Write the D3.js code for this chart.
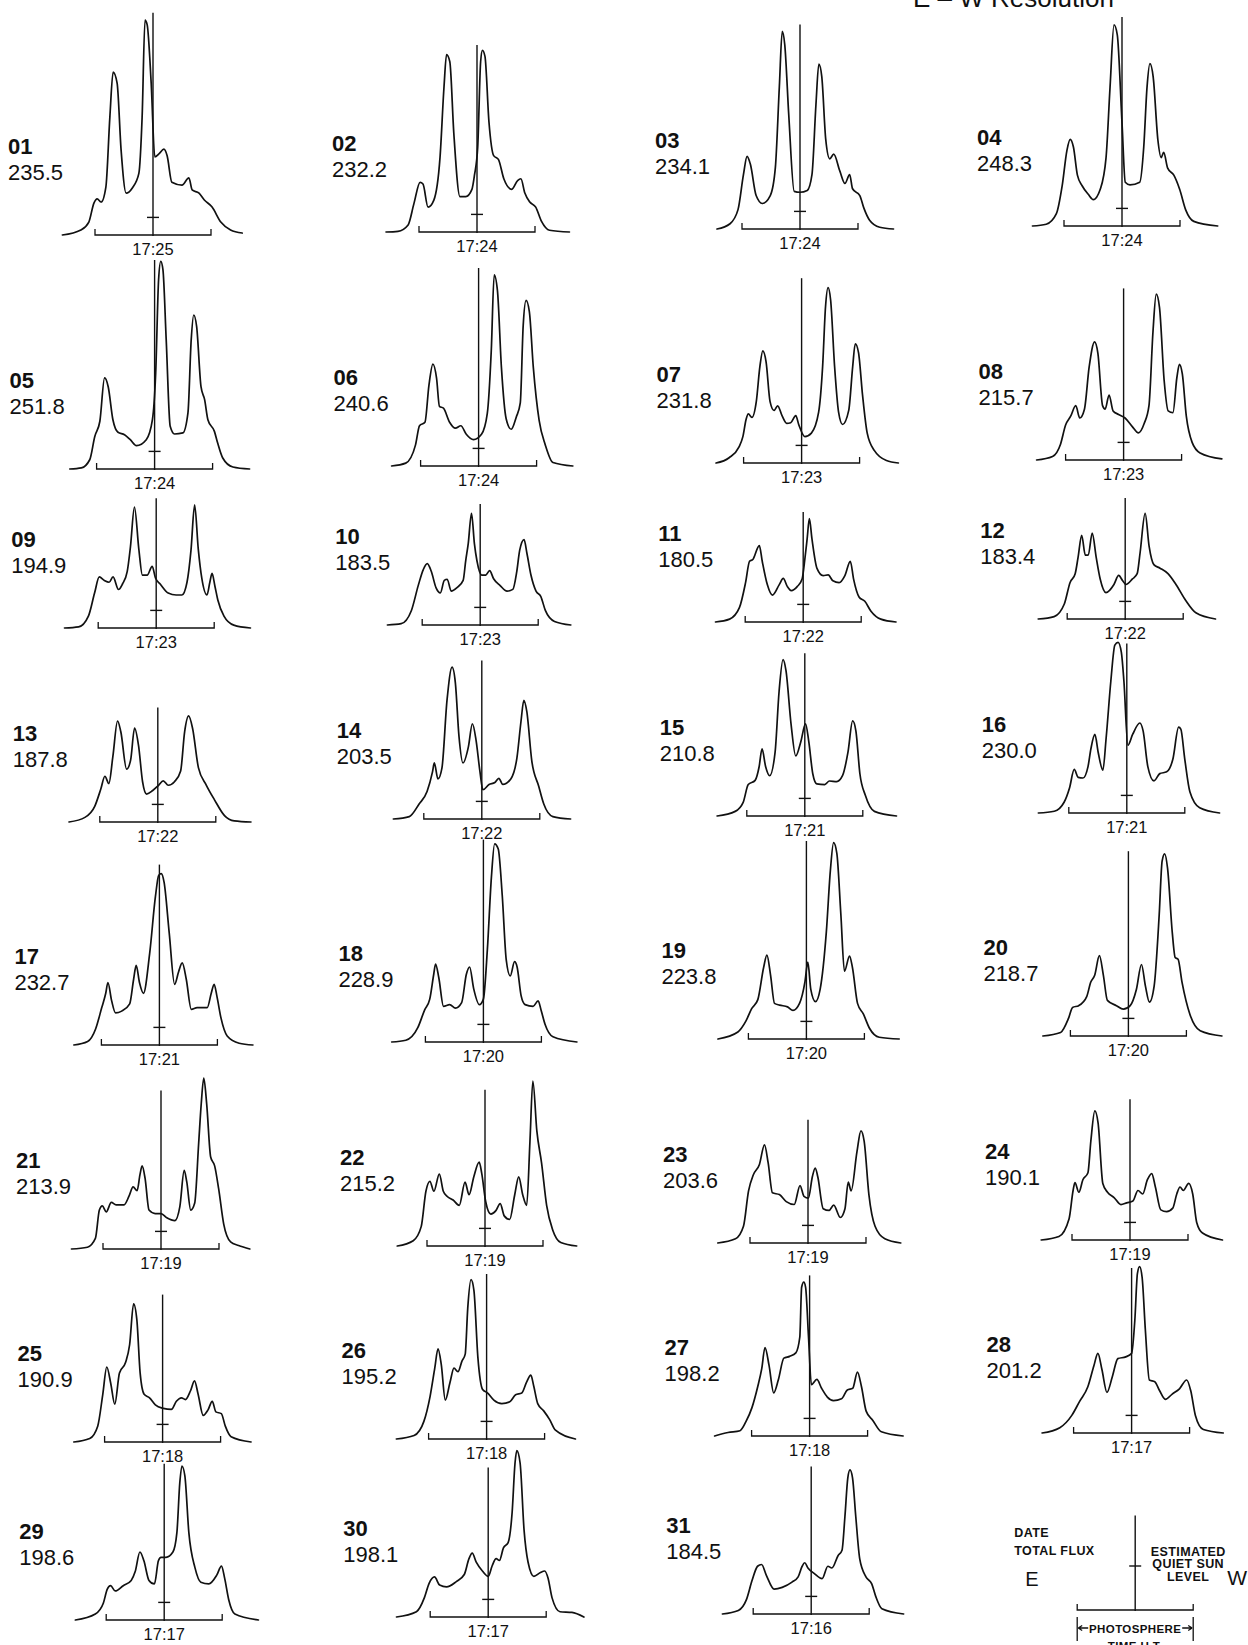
<!DOCTYPE html>
<html>
<head>
<meta charset="utf-8">
<script src="https://cdn.jsdelivr.net/npm/d3@7/dist/d3.min.js"></script>
<style>
  html, body { margin: 0; padding: 0; background: #fff; }
  svg { display: block; }
  text { font-family: "Liberation Sans", Arial, sans-serif; fill: #111; }
  .scan { fill: none; stroke: #111; stroke-width: 1.7; stroke-linejoin: round; stroke-linecap: round; }
  .axis-line { stroke: #111; stroke-width: 1.4; }
  .bracket { fill: none; stroke: #111; stroke-width: 1.3; }
  .date { font-size: 22px; font-weight: bold; }
  .flux { font-size: 22px; }
  .time { font-size: 16.5px; text-anchor: middle; }
  .key { font-size: 12.5px; font-weight: bold; letter-spacing: 0.4px; }
</style>
</head>
<body>
<div class="chart"></div>
<script>
// day of month, total flux, scan time (U.T.)
const dates = ['01','02','03','04','05','06','07','08','09','10','11','12','13','14','15','16',
    '17','18','19','20','21','22','23','24','25','26','27','28','29','30','31']
const fluxes = ['235.5','232.2','234.1','248.3','251.8','240.6','231.8','215.7','194.9','183.5','180.5',
    '183.4','187.8','203.5','210.8','230.0','232.7','228.9','223.8','218.7','213.9','215.2','203.6',
    '190.1','190.9','195.2','198.2','201.2','198.6','198.1','184.5']
const times = ['17:25','17:24','17:24','17:24','17:24','17:24','17:23','17:23','17:23','17:23','17:22',
    '17:22','17:22','17:22','17:21','17:21','17:21','17:20','17:20','17:20','17:19','17:19','17:19',
    '17:19','17:18','17:18','17:18','17:17','17:17','17:17','17:16']

// height reached by the central meridian marker, same units as the scans
const meridianTop = [101, 85, 93, 95, 95, 90, 84, 78, 59, 55, 50, 55, 52, 72, 74, 77,
    82, 92, 90, 84, 72, 71, 56, 64, 67, 75, 73, 75, 71, 68, 67]
const quietSun = 8

// E-W scans: [offset from disk centre (arcmin), relative brightness]
const scan01 = [[-25,0],[-19.9,2.3],[-17.7,5.9],[-16.3,14.5],[-15.4,16.4],[-14.3,15],[-13,21.8],[-11.9,53.6],[-11,74],[-9.9,69],[-8.8,38.6],[-7.4,19],[-5.7,21.4],[-3.9,28],[-3,53.6],[-2.2,97.7],[-1.6,95.5],[-0.5,69],[0.5,35.5],[1.7,37],[3,39],[3.9,36],[5.2,24],[8,22.7],[9.9,26],[10.8,20.5],[12.7,19],[14.1,16],[16.3,12.7],[18.7,5.9],[21.4,2.3],[24.6,0.9]]
const scan02 = [[-25.1,0],[-21.8,0.3],[-19,3.2],[-17.4,12.9],[-15.7,22.6],[-14.9,21.8],[-13.5,11.3],[-11.9,14.5],[-10.2,33.9],[-9.1,66],[-8.4,80.6],[-7.5,77.4],[-6.4,45],[-4.7,16.1],[-3.1,16.1],[-1.4,19.4],[-0.7,25.8],[0.2,38.7],[1,77.4],[1.5,82.6],[2.2,79.8],[3.3,50],[4.6,34.7],[5.9,33],[7.4,24.2],[9.6,19.4],[11.2,23.4],[12.1,24.2],[13.2,17.7],[14.5,13.7],[16.2,11.3],[17.8,4.8],[20,0.8],[25.5,0]]
const scan03 = [[-22.9,0],[-19.3,2.4],[-17.1,8.8],[-15.6,24.7],[-14.6,33],[-13.7,29.5],[-12.1,15.2],[-10.4,11.6],[-8.2,15.2],[-6.8,27.9],[-5.7,64.6],[-4.9,89.8],[-4.2,83.7],[-3.1,51.8],[-1.6,17.1],[0,16.7],[2,17.5],[3.3,24.7],[4.4,56.6],[5.2,75],[6,69.4],[7.1,40.7],[8.2,31.9],[9.3,34],[11,26.3],[12.4,20.7],[13.7,24.7],[14.5,18.3],[16.5,15.2],[17.6,9.6],[19.2,4],[22,0.8],[25.8,0]]
const scan04 = [[-24.7,0],[-20.9,0.8],[-18.1,5.6],[-16.5,18.3],[-15.2,34.3],[-14.3,39.4],[-13.4,35.9],[-12.3,23.1],[-11,18.3],[-9.3,14.4],[-7.9,12],[-6,16.7],[-4.4,31.1],[-3.3,63],[-2.2,91.4],[-1.3,86.9],[0,47],[0.9,19.9],[2.2,18.7],[4.9,19.9],[6,35.9],[6.9,63],[7.7,73.8],[8.6,67.8],[9.9,39.1],[10.8,31.1],[11.5,33.5],[12.6,26.3],[14.3,23.1],[15.9,16.7],[17.6,7.2],[19.8,2.1],[26.4,0]]
const scan05 = [[-23.4,0],[-20.2,0.5],[-17.9,4.2],[-16.5,14.8],[-15.1,21.7],[-13.8,41.4],[-12.8,37.4],[-11.5,22.4],[-10.1,16.7],[-8.3,15.6],[-6.7,13.3],[-5,10.6],[-2.3,13.3],[-0.6,22.4],[0.3,43.6],[1.1,86],[1.7,94.4],[2.3,90.6],[3.2,58.8],[4.3,19.4],[5.5,15.9],[7.8,16.4],[9.2,25.5],[10.1,58.8],[10.8,70],[11.6,64.7],[12.8,37.4],[13.8,31.5],[14.7,22.4],[16.5,17.1],[17.4,11.8],[18.8,5],[21.6,0.9],[26.2,0]]
const scan06 = [[-24,0],[-20.1,1.3],[-17.4,9.6],[-16.3,18.3],[-14.8,19.9],[-13.7,36.7],[-12.6,46.3],[-11.6,39.9],[-10.8,27.1],[-9.7,26.3],[-8,19.9],[-6.4,17.2],[-4.9,18.3],[-3.4,14.4],[-1.4,12],[0.8,14.4],[2.4,23.9],[3.5,52.6],[4.3,86.9],[5.2,79.7],[6.3,44.7],[7.6,21.5],[9,16.7],[10.4,22.3],[11.5,28.7],[12.3,63.8],[13.1,75.3],[14,70.2],[15.1,44.7],[16.7,20.7],[18.4,9.6],[20.5,1.6],[26,0]]
const scan07 = [[-23.6,0],[-20,2.4],[-17.3,7.2],[-16.2,12],[-15.3,19.9],[-14.7,22.3],[-13.7,20.7],[-12.5,27.9],[-11.5,43.9],[-10.7,51],[-9.8,46],[-8.7,27.9],[-7.6,23.9],[-6.6,26],[-5.4,21.5],[-4.1,18],[-3,18.3],[-1.6,21.5],[-0.8,17.5],[0.9,12],[2.7,13.6],[4.7,23.1],[5.8,43.9],[6.6,71],[7.3,79.7],[8,74.2],[9.1,43.9],[10.2,23.1],[11.3,17.5],[13,23.9],[14.1,43.9],[14.8,54.2],[15.7,50.2],[16.8,31.1],[18.1,13.6],[20.1,5.6],[23.4,1.1],[26.7,0]]
const scan08 = [[-24,0],[-19.6,1.6],[-17.4,7.2],[-16,15.9],[-14.6,19.9],[-13.2,24.7],[-12.1,19.1],[-10.8,23.1],[-9.5,42.3],[-8,53.7],[-7.1,48.6],[-5.8,24.7],[-5.1,23.1],[-4,29.5],[-2.9,22.3],[-1.4,20.7],[0.4,19.1],[2.4,15.2],[4.1,12.3],[5.7,16.7],[7,24.7],[8.1,58.2],[9,75.4],[9.9,69.4],[11.2,35.9],[12.3,22.3],[13.6,21.5],[14.7,37.5],[15.4,43.5],[16.2,39.1],[17.3,19.9],[18.9,8],[21.1,3.2],[27.1,0.5]]
const scan09 = [[-25.3,0],[-21.4,0.5],[-18.7,5.4],[-17,15.9],[-15.7,23.2],[-14.3,21.6],[-13,20.8],[-11.9,23.2],[-10.4,17.5],[-9.3,20],[-8,25.6],[-7.1,37],[-6,55],[-4.8,36],[-3.8,24],[-2.5,24],[-1.1,28],[-0.2,22.7],[1.1,20],[3.3,15.9],[5.5,15],[7.1,15],[8.5,20.8],[9.6,35.4],[10.6,56],[11.6,36],[12.6,22.4],[14,15],[14.8,20.8],[15.4,24.8],[16.2,19],[17,12.7],[18.7,5.4],[21.4,1.3],[26,0]]
const scan10 = [[-25.6,0],[-21.8,0.6],[-19,6.5],[-17.1,17.9],[-15.7,25.2],[-14.6,27.9],[-13.5,24.4],[-12.2,17],[-11,14.6],[-9.9,20.3],[-9.1,20.8],[-8,15.4],[-6.4,17],[-4.7,20.3],[-4,29.2],[-3.3,37],[-2.4,50.8],[-1.6,37],[-0.9,29.2],[0.4,22.7],[1.5,22.7],[2.6,24.7],[3.7,21],[5.5,17.9],[7.4,15.4],[9,16.2],[10.1,24.4],[10.9,34],[12.1,38.8],[12.9,32.5],[14,22.7],[15.4,15.4],[16.7,13],[18,6.5],[20.5,1.6],[25,0]]
const scan11 = [[-24.2,0],[-20.3,1.3],[-17.6,6.5],[-15.9,17.9],[-14.8,27.6],[-13.9,28.4],[-12.1,34.7],[-11.3,27.6],[-9.9,17],[-8.5,12.2],[-6.6,17],[-5.5,19.8],[-4.4,16.2],[-3.3,14.3],[-1.6,16.2],[-0.3,19.5],[0.5,29.2],[1.1,38],[1.7,47],[2.4,38],[3.8,24.4],[5.5,21.1],[6.9,21.4],[8.2,18.7],[9.9,17.9],[11.5,21.1],[13,27.6],[13.9,19.5],[15.4,11.4],[17,9.4],[18.7,4.9],[21.4,1.3],[25.6,0]]
const scan12 = [[-24,0],[-19.6,1.1],[-16.8,6.8],[-15.2,16.6],[-13.8,20.6],[-13,28],[-12,38],[-11,29],[-10.2,29],[-9.1,39],[-8,28],[-6.9,18.2],[-5.3,12],[-3.1,15.7],[-1.8,19.8],[-0.7,17.4],[0.2,15.7],[2,18.2],[3.3,20.6],[4.1,30],[5.5,48],[6.6,33],[7.9,24.7],[9.6,23.1],[11.8,20.6],[14,15.7],[16.7,8.4],[19.5,2.8],[24.9,0]]
const scan13 = [[-24.5,0],[-20.1,2.1],[-17.4,7.1],[-15.7,15.1],[-14.6,20.8],[-13.5,17.5],[-12.4,29.7],[-11.1,45.9],[-10.2,41],[-8.6,24],[-7.5,28.1],[-6.4,42.7],[-5.3,34.6],[-4.2,18.3],[-3.1,12.7],[-1.4,14.3],[0.2,16.7],[1.5,18.7],[2.9,16.7],[4.6,18.3],[6.3,23.2],[7.4,41],[8.5,48.2],[9.6,42.5],[11.2,24.7],[13.4,16.7],[15.6,10.2],[18.4,2.9],[21.1,0.5],[25.7,0]]
const scan14 = [[-24.4,0],[-20,1.1],[-17.3,6.8],[-15.1,12.5],[-13.6,21.4],[-13.1,25.5],[-12.1,18.2],[-11,23.1],[-9.6,53.9],[-8.2,69],[-7.3,62],[-6.3,37.7],[-5.2,25.5],[-3.7,32.8],[-2.6,43.3],[-1.6,36],[-0.5,21.4],[0.3,13.3],[2,15.7],[3.6,16.6],[4.7,18.5],[5.8,15.7],[8,18.2],[9.7,27.9],[10.8,44.2],[11.6,53.9],[12.4,49],[13.8,26.3],[15.7,14.9],[17.1,6.8],[19.6,1.1],[24.5,0]]
const scan15 = [[-24.2,0],[-19.2,2.1],[-17,6.2],[-15.6,14.3],[-13.7,16.2],[-12.6,22.4],[-11.8,30.5],[-10.8,22.4],[-9.7,18.3],[-8.2,28.9],[-7.1,56.5],[-6,71.1],[-5.2,66.2],[-3.8,41.9],[-2.5,27.3],[-1.1,33.8],[0.2,41.9],[1.1,33.8],[2.2,19.2],[3.3,14.6],[5.5,14.3],[6.8,15.9],[8.8,15.6],[10.4,18.3],[11.9,28.9],[13.2,43.2],[14.1,38.6],[15.2,19.2],[16.7,9.4],[19.2,2.1],[25.3,0]]
const scan16 = [[-24.4,0],[-20,0.8],[-17.3,4.9],[-15.8,11.4],[-14.5,19.8],[-13.4,16.2],[-12.1,15.9],[-10.7,21.1],[-9.9,29.2],[-8.8,35.7],[-7.9,27.6],[-6.6,19.5],[-5.7,34.1],[-4.4,60],[-3.3,76.3],[-2.4,77.6],[-1.5,73],[-0.8,60],[0.3,30.8],[1.6,35.7],[3.6,40.9],[4.5,37.3],[5.8,21.1],[7.5,14.6],[9.1,17.9],[11,18.7],[12.7,24.4],[14.3,39],[14.9,38.1],[16,24.4],[17.4,9.7],[20.1,2.4],[25.6,0]]
const scan17 = [[-23.6,0],[-19.8,1.6],[-17.6,7.3],[-15.9,17],[-14.8,23.5],[-14.2,28.4],[-13.2,20.3],[-12.1,14.6],[-10.4,15.4],[-8.2,18.7],[-7.1,30],[-6.4,36.2],[-5.5,28.4],[-4.4,23.5],[-2.7,41.4],[-1.1,67.4],[-0.2,77.1],[0.5,77.9],[1.3,73.9],[2.7,51.1],[4.2,27.6],[5.3,33.3],[6.3,37.3],[7.4,30],[8.8,16.2],[10.4,17],[13.2,17],[14.3,23.5],[15.1,27.6],[15.9,21.9],[17,12.2],[18.7,4.1],[22,0.8],[25.8,0]]
const scan18 = [[-25.3,0],[-21.4,0.8],[-18.1,6.5],[-16.2,14.6],[-14.8,19.5],[-13.7,30.8],[-13.2,35.4],[-12.3,29.2],[-11,16.2],[-9.3,17],[-7.7,15.4],[-6,17.9],[-4.7,30.8],[-3.8,34.1],[-2.7,24.4],[-1.1,17],[0,19.5],[1.1,42.2],[2.2,74.7],[3.1,90.1],[4.1,87.7],[5.2,66.6],[6.3,37.3],[7.4,30],[8.6,36.5],[9.3,34.1],[10.4,21.1],[11.5,17],[13.7,16.2],[15.1,18.7],[15.9,14.6],[17,8.1],[19.2,2.4],[25.8,0]]
const scan19 = [[-24.4,0],[-18.9,3.2],[-16.7,8.1],[-15.1,13.8],[-13.4,17.9],[-11.8,32.5],[-10.9,38.1],[-9.9,29.2],[-8.8,16.2],[-7.4,15.4],[-5.2,14.6],[-3.7,13],[-1.9,16.2],[-0.4,26],[0.4,34.9],[1.2,22.7],[2.5,17],[3.8,22.7],[5.5,48.7],[6.6,76.3],[7.5,89.3],[8.4,84.4],[9.5,56.8],[10.5,30.8],[11.9,37.7],[12.7,32.5],[14.1,16.2],[15.7,11.4],[17.4,4.9],[20.1,0.8],[25.6,0]]
const scan20 = [[-23.6,0],[-18.7,1.6],[-16.5,8.1],[-15.4,13],[-13.7,13.8],[-11.5,17.9],[-10.4,24.4],[-9.3,27.6],[-8,36.5],[-6.9,27.6],[-5.8,16.2],[-3.3,13.8],[-1.4,12.2],[0.5,13.8],[2.2,21.1],[3.6,32.5],[4.7,22.7],[5.8,15.4],[7.1,22.7],[8.5,55.2],[9.3,79.5],[10,82.8],[10.8,76.3],[12.1,47.1],[12.9,35.7],[13.7,34.9],[14.8,24.4],[17,9.7],[19.8,2.4],[25.8,0]]
const scan21 = [[-24.7,0],[-20.3,0.8],[-18.1,4.8],[-17,17.7],[-16.2,19.6],[-15.1,16.9],[-13.7,21.2],[-12.4,20.1],[-10.2,20.1],[-8.8,24.1],[-7.7,28.2],[-6.6,26.5],[-5.8,33.8],[-5.2,37.8],[-4.4,32.2],[-3.3,17.7],[-1.6,16.1],[0,16.1],[1.6,14.2],[3.8,12.9],[5.2,19.3],[6.4,35.7],[7.1,30.6],[8.2,17.7],[9.3,20.9],[10.4,48.3],[11.1,66],[11.8,77.7],[12.6,66],[13.7,41.8],[14.8,37.8],[15.9,27.4],[17.3,11.3],[19.2,3.2],[21.4,1.6],[24.5,0]]
const scan22 = [[-24.2,0],[-19.8,2.4],[-17.6,8.8],[-16.3,24.9],[-15.2,29.4],[-14.1,24.9],[-12.6,32.7],[-11.5,24.9],[-10.4,22.5],[-8.8,20.9],[-7.1,18.5],[-5.5,29],[-4.4,23.3],[-3.1,31.4],[-1.6,38.1],[-0.9,33],[0.2,20.1],[1.6,14.5],[3,16.1],[4.2,19.3],[5.3,13.7],[6.8,12.1],[8.2,23.3],[9.3,31.4],[10.4,23.3],[11.5,18.5],[12.4,47.5],[13.2,75],[14.3,52.3],[15.6,37.8],[17,18.5],[18.7,7.2],[20.9,1.6],[25.3,0]]
const scan23 = [[-24.9,0],[-20,1.9],[-17.8,7.6],[-16.4,23.7],[-15.1,30.9],[-13.4,35.7],[-12,44.6],[-11,36.5],[-9.8,22.8],[-7.9,22],[-6,18.8],[-3.8,17.5],[-2.2,26.1],[-1.1,21.2],[0.1,20.4],[1.2,30.1],[2,34.1],[2.7,30.1],[4.2,15.6],[5.8,14.8],[7.1,17.2],[8.9,11.6],[10.2,15.6],[11.1,27.7],[11.9,23.7],[13.5,41.4],[14.6,51],[15.5,46.2],[16.8,22],[18.5,7.6],[21.2,1.9],[25.6,0]]
const scan24 = [[-24.5,0],[-19.6,1.6],[-16.8,9.7],[-15.7,22.5],[-15.2,26.1],[-14.1,21.7],[-13,27.4],[-11.6,30.6],[-10.8,45],[-9.7,58.7],[-8.8,53.1],[-7.5,25.7],[-6.2,21.7],[-4.4,19.3],[-2.5,16.1],[-0.9,16.9],[0.8,17.7],[2.2,22.5],[3.5,20.9],[4.8,27.4],[6,30.2],[7,24.1],[8.5,13.7],[10.1,12.9],[11.8,14.5],[12.9,20.9],[13.8,24.1],[14.7,22.5],[16.2,25.7],[17.3,20.9],[18.4,8],[20,3.2],[25.5,0]]
const scan25 = [[-24.5,0],[-20.1,1.6],[-17.9,7.2],[-16.5,21.7],[-15.4,34.1],[-14.3,26.6],[-13.2,17.2],[-11.9,31.4],[-10.2,36.2],[-9.1,44.2],[-8,62.8],[-7.1,55.5],[-6.2,31.4],[-5.1,21.7],[-3.6,20.1],[-2,16.9],[0.2,15.3],[2.4,14.8],[3.8,18.5],[5.2,20.1],[6.3,19.3],[7.7,23.3],[8.8,27.8],[9.8,21.7],[11.2,12.1],[12.5,14.5],[13.7,18.5],[14.7,13.7],[16.2,12.9],[17.3,7.2],[18.9,2.4],[24.4,0]]
const scan26 = [[-24.9,0],[-20,1.6],[-17.3,8],[-15.6,19.3],[-14.3,32.2],[-13.4,41],[-12.5,33.8],[-11.4,17.7],[-10.1,25.7],[-9,32.2],[-7.9,30.6],[-6.8,35.4],[-5.9,38.6],[-5.2,59.5],[-4.3,72.4],[-3.5,67.6],[-2.4,37],[-1.1,22.5],[0.3,20.9],[2,17.7],[4.2,16.1],[6.4,16.9],[8,20.1],[9.7,20.9],[11,25.7],[12.2,29],[13,24.1],[14.1,16.1],[15.7,12.9],[17.4,8.8],[19,4],[24.5,0]]
const scan27 = [[-26.2,0],[-22.5,1.6],[-19.2,2.4],[-17.6,6.4],[-15.9,12.9],[-14.3,22.5],[-13.2,30.6],[-12.3,40.2],[-11.2,32.2],[-9.9,19.6],[-8.6,25.7],[-7.1,35.4],[-5.5,36.2],[-3.8,37.8],[-2.7,45],[-2.2,67.6],[-1.6,69.9],[-1.1,67.6],[-0.3,45],[0.5,23.3],[2,25.7],[3.3,21.7],[4.9,17.7],[6.6,16.1],[8.8,16.9],[10.4,20.9],[11.9,21.7],[13.2,29],[14.3,22.5],[15.6,11.3],[17.4,7.2],[19.8,1.9],[25.8,0]]
const scan28 = [[-24.7,0],[-19.8,2.4],[-16.5,8],[-14.3,14.5],[-12.1,20.9],[-10.4,30.6],[-9.3,36.2],[-8.2,29],[-6.8,18.5],[-5.3,25.7],[-3.8,33.8],[-1.6,34.6],[0,36.2],[0.9,51.5],[1.6,72.4],[2.2,75.6],[2.9,70.8],[3.8,46.7],[4.9,24.1],[6.4,23.3],[7.7,19.3],[9.3,15.3],[11.2,17.7],[13.2,20.1],[15.2,24.1],[16.3,19.3],[17.6,8],[19.8,1.6],[25.3,0]]
const scan29 = [[-24.5,0],[-19,2.7],[-16.8,7.6],[-15.7,14],[-14.8,15.6],[-13.5,13.2],[-11.3,15.6],[-9.1,18],[-8,22],[-6.7,30.9],[-5.6,26.9],[-4.2,18],[-2.7,16.4],[-1.6,26.9],[-0.9,28.5],[0.5,28.5],[2.4,30.9],[3.5,39.7],[4.3,62.3],[4.9,70],[5.7,65.5],[6.8,39.7],[8.5,23.7],[10.1,17.2],[12.3,16.4],[14.5,20.4],[15.8,24.5],[16.7,18.8],[17.8,9.2],[19.5,2.7],[26,0]]
const scan30 = [[-25.3,0],[-19.8,2.4],[-17.6,8.8],[-16.3,15.3],[-14.8,18.2],[-13.4,14.5],[-11.5,13.7],[-8.8,16.1],[-6.6,19.3],[-5.3,26.5],[-4.4,29],[-3.3,24.9],[-1.6,20.9],[0,18.5],[1.1,23.3],[2.2,26.5],[3.1,25.7],[4.2,31.4],[5.5,33.8],[6.6,47.5],[7.4,70],[7.9,75.6],[8.8,70],[9.9,39.4],[11,24.9],[12.6,18.5],[14.3,20.1],[15.6,20.9],[16.5,17.7],[17.6,8.8],[19.8,2.4],[23.1,2.1],[26.4,0]]
const scan31 = [[-24.5,0],[-20.1,1.6],[-17.9,6.4],[-16.3,15.3],[-14.8,21.7],[-13.7,22.5],[-12.4,17.7],[-10.2,11.3],[-8,12.1],[-5.3,14.5],[-3.6,16.9],[-2.5,21.7],[-1.8,23.3],[-0.9,20.9],[0.8,18.5],[3,16.1],[4.6,21.7],[5.7,20.9],[7.4,26.5],[8.5,29],[9.3,44.2],[10.1,61.9],[10.7,65.5],[11.4,61.9],[12.3,44.2],[13.4,24.9],[15.1,16.9],[16.7,13.7],[17.8,8],[19.5,2.4],[25.5,0]]

const scans = [scan01, scan02, scan03, scan04, scan05, scan06, scan07, scan08, scan09, scan10,
    scan11, scan12, scan13, scan14, scan15, scan16, scan17, scan18, scan19, scan20, scan21,
    scan22, scan23, scan24, scan25, scan26, scan27, scan28, scan29, scan30, scan31]

// key panel: marker height and quiet sun level drawn larger than on the scans
const keyMeridian = 43
const keyQuietSun = 20

class ScanSheet {

    constructor(options) {
        this.width = options.width
        this.height = options.height
        this.radius = 16                       // photospheric radius, arcmin
        // panel grid (the scanned page is slightly skewed)
        this.colX = [153, 477, 800, 1122]
        this.rowY = [235, 469, 628, 822, 1045, 1249, 1442, 1620]
        this.rowShift = 1.6
        this.colTilt = -3
    }

    render() {
        this.svg = d3.select('.chart')
            .append('svg')
            .attr('width', this.width)
            .attr('height', this.height)
        this.svg.append('rect')
            .attr('width', this.width)
            .attr('height', this.height)
            .style('fill', '#fff')

        this.x = d3.scaleLinear().domain([-this.radius, this.radius]).range([-58, 58])
        this.y = d3.scaleLinear().domain([0, 100]).range([0, -220])
        this.line = d3.line()
            .x(d => this.x(d[0]))
            .y(d => this.y(d[1]))
            .curve(d3.curveMonotoneX)

        this.drawTitle()
        scans.forEach((s, i) => this.drawPanel(i))
        this.drawKey()
    }

    origin(i) {
        let col = i % 4, row = Math.floor(i / 4)
        return {
            x: this.colX[col] + row * this.rowShift,
            y: this.rowY[row] + col * this.colTilt
        }
    }

    drawTitle() {
        // the page was trimmed through this heading, only its lower part shows
        this.svg.append('text')
            .attr('x', 913)
            .attr('y', 7)
            .style('font-size', '26px')
            .text('E – W  Resolution')
    }

    drawFrame(g, top, quiet) {
        let r = this.radius
        // photosphere bracket
        g.append('path')
            .attr('class', 'bracket')
            .attr('d', `M${this.x(-r)},-6V0H${this.x(r)}V-6`)
        // central meridian
        g.append('line')
            .attr('class', 'axis-line')
            .attr('x1', this.x(0)).attr('x2', this.x(0))
            .attr('y1', this.y(0) + 1).attr('y2', this.y(top))
        // estimated quiet sun level
        g.append('line')
            .attr('class', 'axis-line')
            .attr('x1', this.x(0) - 6).attr('x2', this.x(0) + 6)
            .attr('y1', this.y(quiet)).attr('y2', this.y(quiet))
    }

    drawPanel(i) {
        let o = this.origin(i)
        let g = this.svg.append('g')
            .attr('transform', `translate(${o.x}, ${o.y})`)

        this.drawFrame(g, meridianTop[i], quietSun)

        g.append('path')
            .attr('class', 'scan')
            .attr('d', this.line(scans[i]))

        g.append('text')
            .attr('class', 'date')
            .attr('x', -145).attr('y', -81)
            .text(dates[i])
        g.append('text')
            .attr('class', 'flux')
            .attr('x', -145).attr('y', -55)
            .text(fluxes[i])
        g.append('text')
            .attr('class', 'time')
            .attr('x', 0).attr('y', 20)
            .text(times[i])
    }

    drawKey() {
        let o = this.origin(31)
        let g = this.svg.append('g')
            .attr('transform', `translate(${o.x + 2}, ${o.y - 1})`)
        let r = this.x(this.radius)

        this.drawFrame(g, keyMeridian, keyQuietSun)

        g.append('text').attr('class', 'key').attr('x', -121).attr('y', -73).text('DATE')
        g.append('text').attr('class', 'key').attr('x', -121).attr('y', -55).text('TOTAL FLUX')
        g.append('text').attr('x', -110).attr('y', -24).style('font-size', '20px').text('E')
        g.append('text').attr('x', 92).attr('y', -25).style('font-size', '21px').text('W')

        let est = g.append('text').attr('class', 'key').style('text-anchor', 'middle')
        est.append('tspan').attr('x', 53).attr('y', -54).text('ESTIMATED')
        est.append('tspan').attr('x', 53).attr('y', -42).text('QUIET  SUN')
        est.append('tspan').attr('x', 53).attr('y', -29).text('LEVEL')

        // photosphere extent
        g.append('path')
            .attr('class', 'bracket')
            .attr('d', `M${-r},7V31M${r},7V31`)
        g.append('path')
            .attr('class', 'bracket')
            .attr('d', `M${-r + 1},18H${-r + 11}M${-r + 1},18l4,-2.5M${-r + 1},18l4,2.5` +
                `M${r - 1},18H${r - 11}M${r - 1},18l-4,-2.5M${r - 1},18l-4,2.5`)
        g.append('text').attr('class', 'key')
            .style('font-size', '11.5px').style('text-anchor', 'middle')
            .attr('x', 0).attr('y', 23).text('PHOTOSPHERE')
        // trimmed at the bottom edge of the page, as in the original
        g.append('text').attr('class', 'key')
            .style('font-size', '11.5px').style('text-anchor', 'middle')
            .attr('x', 0).attr('y', 40).text('TIME U.T.')
    }
}

new ScanSheet({ width: 1248, height: 1645 }).render()
</script>
</body>
</html>
